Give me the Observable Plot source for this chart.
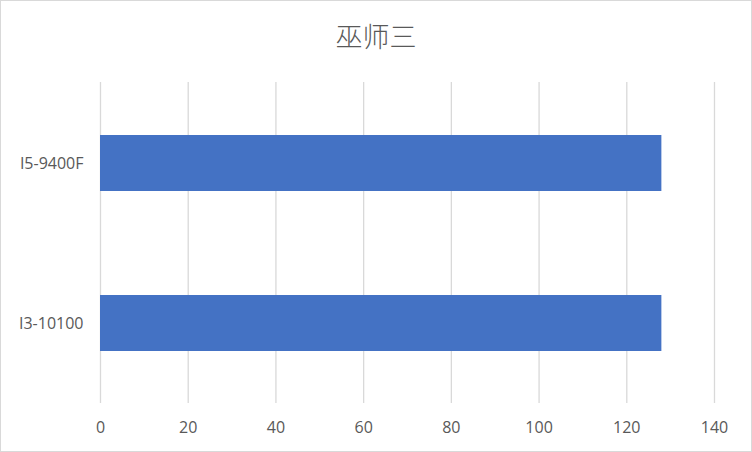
<!DOCTYPE html>
<html>
<head>
<meta charset="utf-8">
<script src="https://cdn.jsdelivr.net/npm/d3@7"></script>
<script src="https://cdn.jsdelivr.net/npm/@observablehq/plot@0.6"></script>
<style>
  html, body { margin: 0; padding: 0; background: #fff; }
  #frame { width: 752px; height: 452px; box-sizing: border-box; border: 1px solid #d9d9d9; background: #fff; overflow: hidden; }
  #title { height: 70px; line-height: 70px; text-align: center; font-family: "Noto Sans CJK SC", "Noto Sans", sans-serif; font-size: 27px; font-weight: 300; color: #595959; }
  #chart svg { display: block; }
</style>
</head>
<body>
<div id="frame">
  <div id="title">巫师三</div>
  <div id="chart"></div>
</div>
<script>
const categories = ["I5-9400F", "I3-10100"];
const values = [128, 128];
const xTicks = [0, 20, 40, 60, 80, 100, 120, 140];

const data = categories.map((c, i) => ({category: c, value: values[i]}));

const chart = Plot.plot({
  width: 750,
  height: 380,
  marginTop: 11,
  marginBottom: 48,
  marginLeft: 99,
  marginRight: 37,
  style: {fontFamily: "'Open Sans', sans-serif", fontSize: "16px", color: "#595959", background: "#fff"},
  x: {domain: [0, 140], ticks: xTicks},
  y: {domain: categories, padding: 0},
  marks: [
    Plot.gridX(xTicks, {stroke: "#d9d9d9", strokeOpacity: 1, strokeWidth: 1.3}),
    Plot.barX(data, {x: "value", y: "category", fill: "#4472C4", insetTop: 52, insetBottom: 52}),
    Plot.axisX(xTicks, {tickSize: 0, tickPadding: 18, fill: "#595959", fontSize: 16, label: null}),
    Plot.axisY({tickSize: 0, tickPadding: 17, fill: "#595959", fontSize: 16, label: null})
  ]
});
document.getElementById("chart").appendChild(chart);
</script>
</body>
</html>
